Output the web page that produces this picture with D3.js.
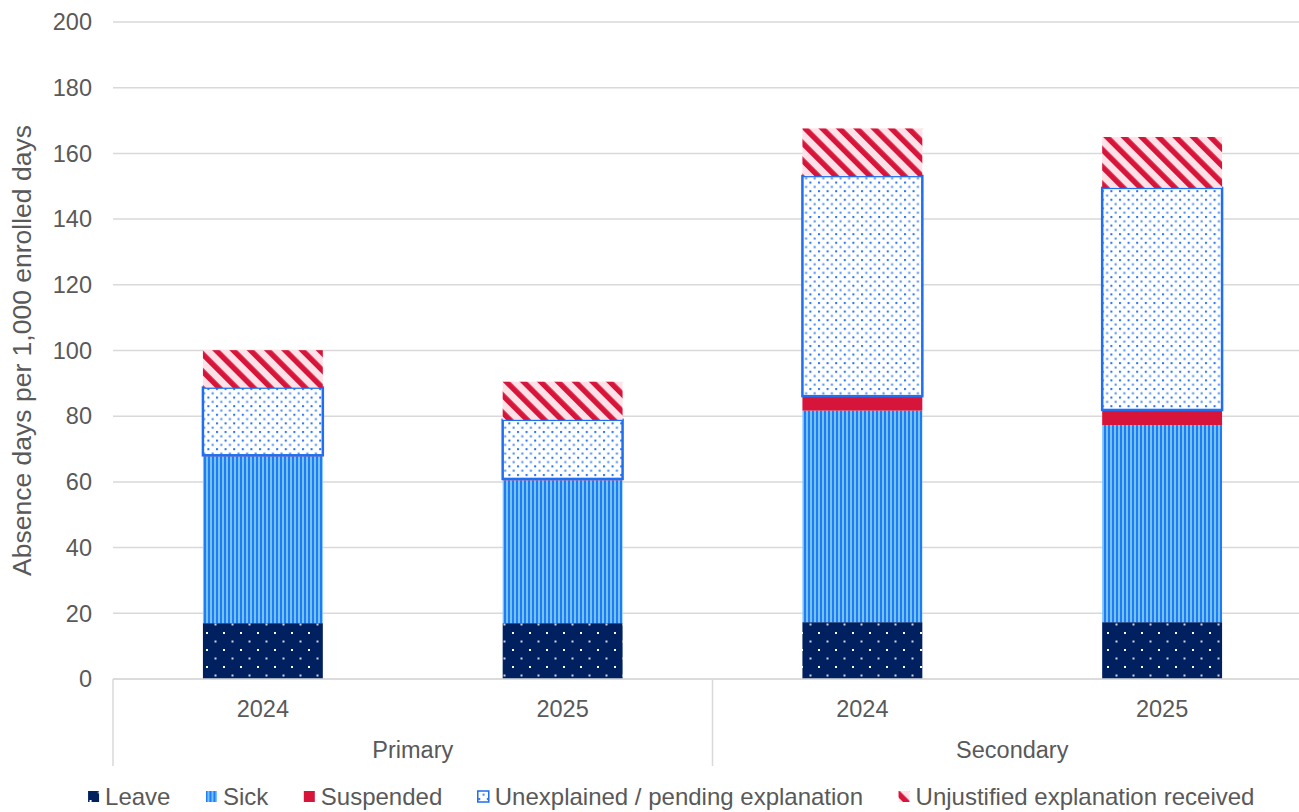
<!DOCTYPE html>
<html>
<head>
<meta charset="utf-8">
<script src="https://cdn.jsdelivr.net/npm/d3@7"></script>
<style>
  body { margin: 0; background: #fff; }
  text { font-family: "Liberation Sans", Arial, sans-serif; fill: #595959; }
</style>
</head>
<body>
<div id="chart"></div>
<script>
// chart data
let groups = ["Primary", "Primary", "Secondary", "Secondary"];
let years = ["2024", "2025", "2024", "2025"];
let seriesNames = ["Leave", "Sick", "Suspended", "Unexplained / pending explanation", "Unjustified explanation received"];
let leave = [17.0, 17.0, 17.3, 17.3];
let sick = [50.8, 43.5, 64.4, 60.0];
let suspended = [0.3, 0.4, 4.4, 4.6];
let unexplained = [20.6, 18.0, 67.0, 67.6];
let unjustified = [11.4, 11.6, 14.5, 15.5];
let yTicks = [0, 20, 40, 60, 80, 100, 120, 140, 160, 180, 200];

let width = 1299, height = 812;
let plot = {left: 113, right: 1312, top: 22, bottom: 679};

let svg = d3.select("#chart")
    .append("svg")
    .attr("width", width)
    .attr("height", height);

let defs = svg.append("defs");

// Leave: navy with white dots
let pLeave = defs.append("pattern").attr("id", "p-leave")
    .attr("patternUnits", "userSpaceOnUse").attr("width", 17).attr("height", 17);
pLeave.append("rect").attr("width", 17).attr("height", 17).attr("fill", "#002060");
pLeave.append("rect").attr("x", 2).attr("y", 3).attr("width", 2).attr("height", 2).attr("fill", "#ffffff");
pLeave.append("rect").attr("x", 10.5).attr("y", 11.5).attr("width", 2).attr("height", 2).attr("fill", "#d0d6e4");

// Sick: vertical stripes
let pSick = defs.append("pattern").attr("id", "p-sick")
    .attr("patternUnits", "userSpaceOnUse").attr("width", 4).attr("height", 4);
pSick.append("rect").attr("width", 4).attr("height", 4).attr("fill", "#74C2FF");
pSick.append("rect").attr("x", 0).attr("width", 2).attr("height", 4).attr("fill", "#1F7CF2");

// Unexplained: white with blue dots
let pUnex = defs.append("pattern").attr("id", "p-unex")
    .attr("patternUnits", "userSpaceOnUse").attr("width", 8.6).attr("height", 8.6);
pUnex.append("rect").attr("width", 8.6).attr("height", 8.6).attr("fill", "#ffffff");
pUnex.append("rect").attr("x", 1).attr("y", 1).attr("width", 2).attr("height", 2).attr("fill", "#1F6FF5");
pUnex.append("rect").attr("x", 5.3).attr("y", 5.3).attr("width", 2).attr("height", 2).attr("fill", "#3F86F7");

// Unjustified: pink with crimson diagonal stripes
let pUnj = defs.append("pattern").attr("id", "p-unj")
    .attr("patternUnits", "userSpaceOnUse").attr("width", 12.2).attr("height", 12.2)
    .attr("patternTransform", "rotate(-45)");
pUnj.append("rect").attr("width", 12.2).attr("height", 12.2).attr("fill", "#FFE1E7");
pUnj.append("rect").attr("width", 5.4).attr("height", 12.2).attr("fill", "#D7153A");

let fills = ["url(#p-leave)", "url(#p-sick)", "#D7153A", "url(#p-unex)", "url(#p-unj)"];
let strokes = ["none", "none", "none", "#1F6FF0", "none"];
let seriesValues = [leave, sick, suspended, unexplained, unjustified];

let x = d3.scaleBand()
    .domain(d3.range(years.length))
    .range([plot.left, plot.right])
    .paddingInner(0.6)
    .paddingOuter(0.3);

let y = d3.scaleLinear()
    .domain([0, 200])
    .range([plot.bottom, plot.top]);

// gridlines
svg.append("g").selectAll("line").data(yTicks)
    .enter()
    .append("line")
    .attr("x1", plot.left)
    .attr("x2", plot.right)
    .attr("y1", function(d) { return y(d); })
    .attr("y2", function(d) { return y(d); })
    .attr("stroke", "#d9d9d9")
    .attr("stroke-width", 1.5);

// y tick labels
svg.append("g").selectAll("text").data(yTicks)
    .enter()
    .append("text")
    .attr("x", 92)
    .attr("y", function(d) { return y(d); })
    .attr("dy", "0.35em")
    .style("text-anchor", "end")
    .style("font-size", "23.5px")
    .text(function(d) { return d; });

// y axis title
svg.append("text")
    .attr("transform", `translate(31, ${(plot.top + plot.bottom) / 2}) rotate(-90)`)
    .style("text-anchor", "middle")
    .style("font-size", "26.5px")
    .text("Absence days per 1,000 enrolled days");

// stacked bars
let rows = years.map(function(yr, i) {
    let row = {idx: i};
    seriesNames.forEach(function(s, k) { row[s] = seriesValues[k][i]; });
    return row;
});
let stacked = d3.stack().keys(seriesNames)(rows);

let layers = svg.append("g").selectAll("g").data(stacked)
    .enter()
    .append("g")
    .attr("fill", function(d, k) { return fills[k]; })
    .attr("stroke", function(d, k) { return strokes[k]; })
    .attr("stroke-width", 2.5);

layers.selectAll("rect")
    .data(function(d) { return d; })
    .enter()
    .append("rect")
    .attr("x", function(d) { return x(d.data.idx); })
    .attr("y", function(d) { return y(d[1]); })
    .attr("width", x.bandwidth())
    .attr("height", function(d) { return y(d[0]) - y(d[1]); });

// category axis
let axis = svg.append("g");
axis.append("line")
    .attr("x1", plot.left).attr("x2", plot.right)
    .attr("y1", plot.bottom).attr("y2", plot.bottom)
    .attr("stroke", "#d9d9d9").attr("stroke-width", 1.5);

let groupNames = Array.from(new Set(groups));
let groupBounds = groupNames.map(function(g) {
    let idx = d3.range(groups.length).filter(function(i) { return groups[i] === g; });
    let step = x.step();
    let start = x(idx[0]) - (step - x.bandwidth()) / 2;
    let end = x(idx[idx.length - 1]) + x.bandwidth() + (step - x.bandwidth()) / 2;
    return {name: g, start: start, end: end};
});

let dividers = [groupBounds[0].start].concat(groupBounds.map(function(b) { return b.end; }));
axis.selectAll("line.div").data(dividers)
    .enter()
    .append("line")
    .attr("class", "div")
    .attr("x1", function(d) { return d; })
    .attr("x2", function(d) { return d; })
    .attr("y1", plot.bottom)
    .attr("y2", 766)
    .attr("stroke", "#d9d9d9")
    .attr("stroke-width", 1.5);

axis.selectAll("text.year").data(years)
    .enter()
    .append("text")
    .attr("class", "year")
    .attr("x", function(d, i) { return x(i) + x.bandwidth() / 2; })
    .attr("y", 709)
    .attr("dy", "0.35em")
    .style("text-anchor", "middle")
    .style("font-size", "23.5px")
    .text(function(d) { return d; });

axis.selectAll("text.group").data(groupBounds)
    .enter()
    .append("text")
    .attr("class", "group")
    .attr("x", function(d) { return (d.start + d.end) / 2; })
    .attr("y", 750)
    .attr("dy", "0.35em")
    .style("text-anchor", "middle")
    .style("font-size", "23.5px")
    .text(function(d) { return d.name; });

// legend
let legend = svg.append("g");
let items = legend.selectAll("g").data(seriesNames)
    .enter()
    .append("g");

items.append("rect")
    .attr("x", 0.5)
    .attr("y", -6)
    .attr("width", 11)
    .attr("height", 11)
    .attr("fill", function(d, k) { return fills[k]; })
    .attr("stroke", function(d, k) { return strokes[k]; })
    .attr("stroke-width", 1.5);

items.append("text")
    .attr("x", 17.5)
    .attr("y", 0)
    .attr("dy", "0.35em")
    .style("font-size", "24px")
    .text(function(d) { return d; });

let widths = [];
items.each(function() {
    widths.push(17.5 + d3.select(this).select("text").node().getComputedTextLength());
});
let gap = 35;
let total = d3.sum(widths) + gap * (widths.length - 1);
let cursor = 671 - total / 2;
items.attr("transform", function(d, k) {
    let pos = cursor;
    cursor += widths[k] + gap;
    return `translate(${pos}, 797)`;
});
</script>
</body>
</html>
